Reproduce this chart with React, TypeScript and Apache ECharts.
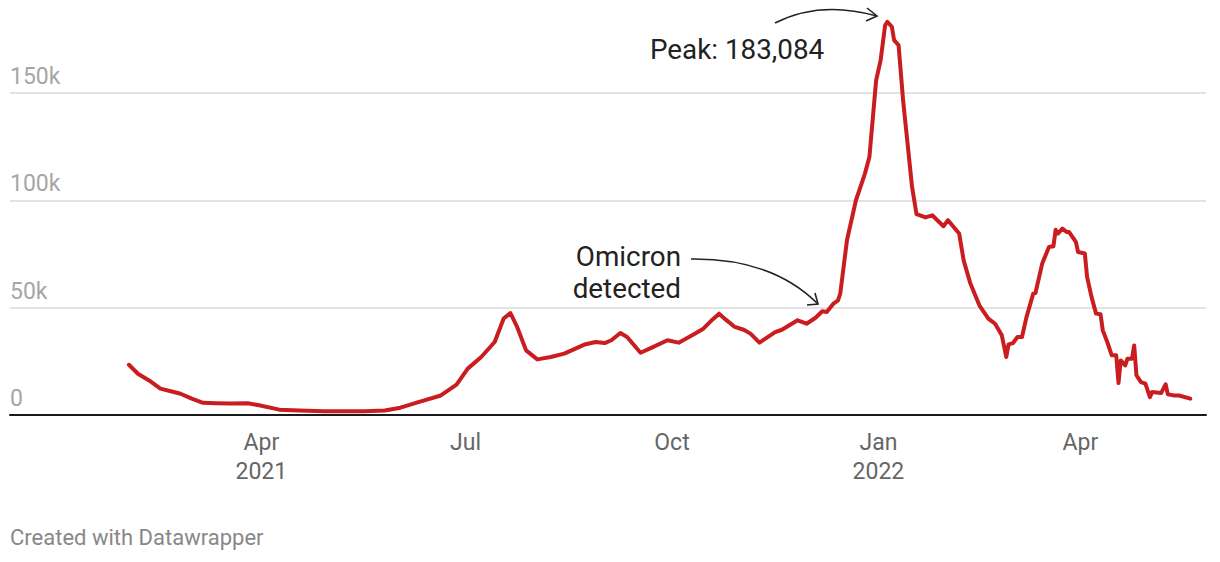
import React, { useEffect, useRef } from "react";
import * as echarts from "echarts";

const dates: string[] = [
  "2021-02-01","2021-02-05","2021-02-10","2021-02-15","2021-02-21","2021-02-24","2021-03-01","2021-03-06","2021-03-12","2021-03-18",
  "2021-03-26","2021-03-31","2021-04-09","2021-04-18","2021-04-29","2021-05-09","2021-05-17","2021-05-26","2021-06-02","2021-06-10",
  "2021-06-20","2021-06-27","2021-07-02","2021-07-08","2021-07-14","2021-07-18","2021-07-21","2021-07-24","2021-07-28","2021-08-02",
  "2021-08-08","2021-08-14","2021-08-23","2021-08-28","2021-09-01","2021-09-04","2021-09-08","2021-09-11","2021-09-17","2021-09-22",
  "2021-09-29","2021-10-04","2021-10-10","2021-10-15","2021-10-19","2021-10-22","2021-10-25","2021-10-29","2021-11-02","2021-11-05",
  "2021-11-09","2021-11-16","2021-11-19","2021-11-26","2021-11-30","2021-12-04","2021-12-07","2021-12-09","2021-12-12","2021-12-14",
  "2021-12-15","2021-12-18","2021-12-22","2021-12-26","2021-12-28","2021-12-31","2022-01-02","2022-01-04","2022-01-05","2022-01-07",
  "2022-01-08","2022-01-10","2022-01-12","2022-01-14","2022-01-16","2022-01-18","2022-01-22","2022-01-25","2022-01-30","2022-02-01",
  "2022-02-06","2022-02-08","2022-02-11","2022-02-15","2022-02-19","2022-02-22","2022-02-25","2022-02-27","2022-02-28","2022-03-02",
  "2022-03-04","2022-03-06","2022-03-08","2022-03-11","2022-03-12","2022-03-15","2022-03-18","2022-03-20","2022-03-21","2022-03-22",
  "2022-03-24","2022-03-26","2022-03-27","2022-03-30","2022-03-31","2022-04-03","2022-04-04","2022-04-06","2022-04-08","2022-04-10",
  "2022-04-11","2022-04-13","2022-04-15","2022-04-17","2022-04-18","2022-04-19","2022-04-21","2022-04-22","2022-04-24","2022-04-25",
  "2022-04-26","2022-04-28","2022-04-30","2022-05-02","2022-05-03","2022-05-07","2022-05-09","2022-05-10","2022-05-13","2022-05-15",
  "2022-05-20"
];

const cases: number[] = [
  23400,19200,16100,12300,10700,9900,7600,5700,5500,5300,
  5500,4500,2500,2100,1800,1700,1800,2100,3400,6000,
  9100,14100,21600,27000,34000,44900,47500,41000,30100,25900,
  27000,28600,32800,34000,33500,34800,38200,36300,29000,31400,
  34800,33700,37100,40200,44400,47200,44400,41000,39700,37900,
  33700,38600,39700,44100,42500,45300,48300,48000,51900,53400,
  56500,81400,100000,112400,120200,155900,165200,181500,183084,180800,
  174600,172200,146600,126400,106200,93500,92000,93000,87900,90700,
  84500,72000,61200,51100,44900,42500,37100,27000,32900,33500,
  36300,36300,45600,56500,56800,70500,78200,78600,86300,84500,
  86800,85200,85200,80600,75900,75200,64300,54900,47200,46900,
  39400,34000,27800,27800,14900,25400,23100,26200,26200,32400,
  18500,15300,14600,8300,10700,10200,14300,9600,9100,9100,
  7600
];

const tickDates: string[] = ["2021-04-01", "2021-07-01", "2021-10-01", "2022-01-01", "2022-04-01"];
const tickLabels: string[] = ["Apr\n2021", "Jul", "Oct", "Jan\n2022", "Apr"];

const axisStart = "2020-12-10";
const axisEnd = "2022-05-27";

const yTicks: number[] = [0, 50000, 100000, 150000];

const peakLabel = "Peak: 183,084";
const omicronLabel = ["Omicron", "detected"];
const footer = "Created with Datawrapper";

const FONT = "Roboto";

function parseDay(s: string): number {
  const [y, m, d] = s.split("-").map(Number);
  return new Date(y, m - 1, d).getTime();
}
function dayKey(v: number): string {
  const d = new Date(v);
  const p = (n: number) => (n < 10 ? "0" + n : "" + n);
  return `${d.getFullYear()}-${p(d.getMonth() + 1)}-${p(d.getDate())}`;
}

export default function App() {
  const ref = useRef<HTMLDivElement>(null);
  useEffect(() => {
    if (!ref.current) return;
    const chart = echarts.init(ref.current, undefined, { renderer: "svg" });
    const ONE_DAY = 86400000;
    const seriesData = dates.map((d, i) => [parseDay(d), cases[i]]);
    const textStyle = { fill: "#222", fontSize: 27.8, fontFamily: FONT };
    chart.setOption({
      animation: false,
      title: {
        text: footer,
        left: 10,
        top: 526,
        padding: 0,
        textStyle: { fontSize: 22, color: "#888", fontWeight: "normal", fontFamily: FONT },
      },
      grid: { left: 10, right: 14, top: 7, bottom: 147, containLabel: false },
      xAxis: {
        type: "time",
        min: parseDay(axisStart),
        max: parseDay(axisEnd),
        minInterval: 28 * ONE_DAY,
        maxInterval: 31 * ONE_DAY,
        axisLine: { show: true, lineStyle: { color: "#1a1a1a", width: 2 } },
        axisTick: { show: false },
        splitLine: { show: false },
        axisLabel: {
          color: "#666",
          fontSize: 23,
          lineHeight: 29,
          margin: 13,
          fontFamily: FONT,
          hideOverlap: false,
          formatter: (v: number) => {
            const idx = tickDates.indexOf(dayKey(v));
            return idx >= 0 ? tickLabels[idx] : "";
          },
        },
      },
      yAxis: {
        type: "value",
        min: 0,
        max: 190000,
        interval: 50000,
        axisLine: { show: false },
        axisTick: { show: false },
        splitLine: { show: true, showMaxLine: false, lineStyle: { color: "#e3e3e3", width: 2 } },
        axisLabel: {
          inside: true,
          margin: 0,
          showMaxLabel: false,
          verticalAlign: "bottom",
          padding: [0, 0, 5, 0],
          color: "#a6a6a6",
          fontSize: 23,
          fontFamily: FONT,
          formatter: (v: number) =>
            yTicks.indexOf(v) >= 0 ? (v === 0 ? "0" : v / 1000 + "k") : "",
        },
      },
      series: [
        {
          type: "line",
          data: seriesData,
          showSymbol: false,
          symbol: "none",
          smooth: false,
          lineStyle: { color: "#c91d1f", width: 4, join: "round", cap: "round" },
          z: 3,
        },
      ],
      graphic: [
        { type: "text", x: 650, y: 49, style: { ...textStyle, text: peakLabel, align: "left", verticalAlign: "middle" } },
        { type: "text", x: 681, y: 256, style: { ...textStyle, text: omicronLabel[0], align: "right", verticalAlign: "middle" } },
        { type: "text", x: 681, y: 288, style: { ...textStyle, text: omicronLabel[1], align: "right", verticalAlign: "middle" } },
        {
          type: "bezierCurve",
          shape: { x1: 691, y1: 259, cpx1: 772, cpy1: 258, x2: 818, y2: 304 },
          style: { stroke: "#222", lineWidth: 1.6, fill: "none" },
        },
        {
          type: "polyline",
          shape: { points: [[807, 305], [818, 304], [815, 293]] },
          style: { stroke: "#222", lineWidth: 1.6, fill: "none" },
        },
        {
          type: "bezierCurve",
          shape: { x1: 775, y1: 23, cpx1: 820, cpy1: 0, x2: 877, y2: 16 },
          style: { stroke: "#222", lineWidth: 1.6, fill: "none" },
        },
        {
          type: "polyline",
          shape: { points: [[867, 8], [877, 16], [866, 21]] },
          style: { stroke: "#222", lineWidth: 1.6, fill: "none" },
        },
      ],
    });
    return () => chart.dispose();
  }, []);
  return (
    <div
      ref={ref}
      style={{ position: "fixed", left: 0, top: 0, width: 1220, height: 562, background: "#fff" }}
    />
  );
}
